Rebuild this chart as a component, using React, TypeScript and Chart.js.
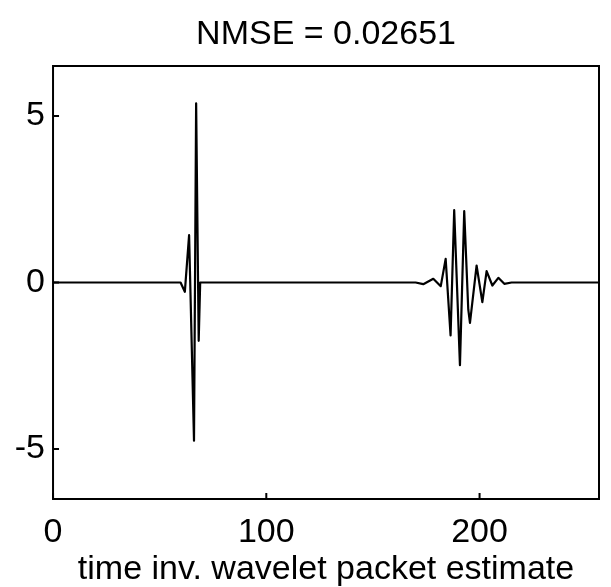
import React, { useEffect, useRef } from "react";
import { Chart, registerables } from "chart.js";

Chart.register(...registerables);

const TITLE = "NMSE = 0.02651";
const X_LABEL = "time inv. wavelet packet estimate";
const X_TICKS = [0, 100, 200];
const Y_TICKS = [-5, 0, 5];
const X_MIN = 0;
const X_MAX = 256;
const Y_MIN = -6.5;
const Y_MAX = 6.5;

// signal (time, amplitude); flat zero between bursts
const sampleX = [
  0, 59.8, 61.8, 63.8, 66.1, 67.1, 68.3, 69.0,
  170, 173.6, 178.3, 181.8, 184.1, 186.4, 188.1, 190.8, 192.8, 194.7, 195.5,
  198.6, 201.3, 203.3, 206.0, 208.8, 211.6, 215.0, 256,
];
const sampleY = [
  0, 0, -0.28, 1.42, -4.75, 5.38, -1.75, 0,
  0, -0.05, 0.11, -0.11, 0.71, -1.59, 2.17, -2.48, 2.14, -0.81, -1.21,
  0.51, -0.59, 0.34, -0.09, 0.14, -0.04, 0, 0,
];

const FONT = "'Liberation Sans', Arial, Helvetica, sans-serif";

const framePlugin = {
  id: "frame",
  afterDatasetsDraw(chart: any) {
    const { ctx, chartArea, scales } = chart;
    const { left, right, top, bottom } = chartArea;
    ctx.save();
    ctx.strokeStyle = "#000";
    ctx.lineWidth = 2;
    ctx.strokeRect(left, top, right - left, bottom - top);
    ctx.beginPath();
    scales.y.ticks.forEach((t: any) => {
      const p = scales.y.getPixelForValue(t.value);
      ctx.moveTo(left, p);
      ctx.lineTo(left + 6, p);
    });
    scales.x.ticks.forEach((t: any) => {
      const p = scales.x.getPixelForValue(t.value);
      ctx.moveTo(p, bottom);
      ctx.lineTo(p, bottom - 6);
    });
    ctx.stroke();
    ctx.restore();
  },
};

export default function App() {
  const ref = useRef<HTMLCanvasElement | null>(null);

  useEffect(() => {
    if (!ref.current) return;
    const data = sampleX.map((x, i) => ({ x, y: sampleY[i] }));
    const chart = new Chart(ref.current, {
      type: "line",
      data: {
        datasets: [
          {
            data,
            borderColor: "#000",
            borderWidth: 2.2,
            borderJoinStyle: "round",
            borderCapStyle: "round",
            pointRadius: 0,
            tension: 0,
            fill: false,
          },
        ],
      },
      options: {
        responsive: false,
        animation: false,
        events: [],
        layout: { padding: { left: 6.8, right: 12, top: 0, bottom: 0 } },
        plugins: {
          legend: { display: false },
          tooltip: { enabled: false },
          title: {
            display: true,
            fullSize: false,
            text: TITLE,
            color: "#000",
            font: { family: FONT, size: 34, weight: "normal", lineHeight: 1.2 },
            padding: { top: 14.6, bottom: 10.6 },
          },
        },
        scales: {
          x: {
            type: "linear",
            min: X_MIN,
            max: X_MAX,
            grid: { display: false, drawTicks: false },
            border: { display: false },
            afterBuildTicks: (scale: any) => {
              scale.ticks = X_TICKS.map((v) => ({ value: v }));
            },
            ticks: {
              color: "#000",
              padding: 14.45,
              maxRotation: 0,
              autoSkip: false,
              font: { family: FONT, size: 34, lineHeight: 1.15 },
              callback: (v: any) => String(v),
            },
            title: {
              display: true,
              text: X_LABEL,
              color: "#000",
              font: { family: FONT, size: 34, lineHeight: 1.0 },
              padding: { top: -14, bottom: 0 },
            },
          },
          y: {
            type: "linear",
            min: Y_MIN,
            max: Y_MAX,
            grid: { display: false, drawTicks: false },
            border: { display: false },
            afterBuildTicks: (scale: any) => {
              scale.ticks = Y_TICKS.map((v) => ({ value: v }));
            },
            ticks: {
              color: "#000",
              padding: 8,
              autoSkip: false,
              font: { family: FONT, size: 34, lineHeight: 1.2 },
              callback: (v: any) => String(v),
            },
          },
        },
      },
      plugins: [framePlugin],
    } as any);
    return () => chart.destroy();
  }, []);

  return (
    <div
      style={{
        position: "absolute",
        left: 0,
        top: 0,
        width: 611,
        height: 587,
        background: "#fff",
      }}
    >
      <canvas ref={ref} width={611} height={587} style={{ display: "block" }} />
    </div>
  );
}
